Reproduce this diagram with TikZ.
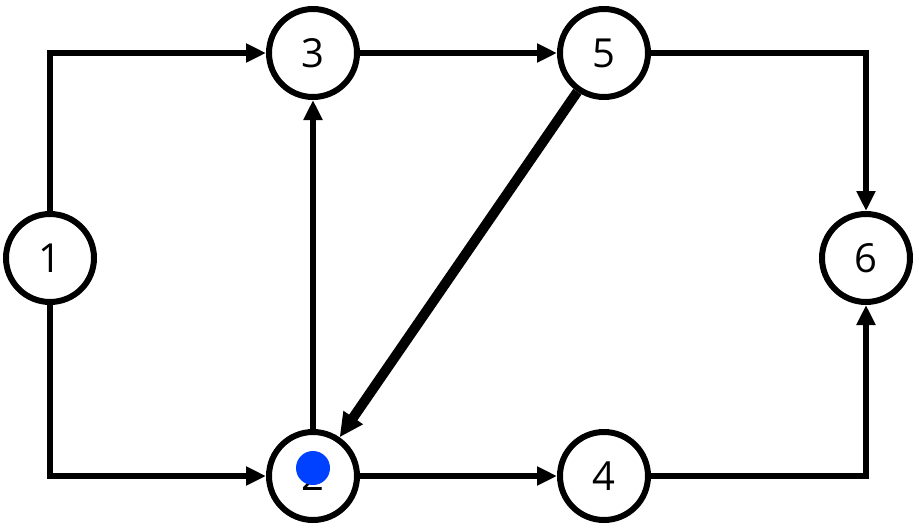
\documentclass[tikz,border=0pt]{standalone}
\usepackage{fontspec}
\setmainfont{Open Sans}
\usetikzlibrary{arrows.meta}
\begin{document}
\begin{tikzpicture}[x=1pt,y=-1pt,
  nd/.style={circle,draw,line width=6pt,minimum size=88pt,inner sep=0pt,fill=white,font=\fontsize{40}{40}\selectfont},
  ed/.style={line width=6pt,-{Triangle[length=20pt,width=18pt]}}]
\useasboundingbox (0,0) rectangle (919,531);
\node[nd] (n1) at (50,258) {1};
\node[nd] (n3) at (313,53) {3};
\node[nd] (n5) at (604,53) {5};
\node[nd] (n6) at (866,258) {6};
\node[nd] (n2) at (313,476) {2};
\node[nd] (n4) at (604,476) {4};
\fill[blue!60!cyan!0!blue,fill={rgb,255:red,0;green,64;blue,255}] (313,468) circle (17);
\draw[ed] (n1.north) |- (n3.west);
\draw[ed] (n1.south) |- (n2.west);
\draw[ed] (n3) -- (n5);
\draw[ed] (n5.east) -| (n6.north);
\draw[ed] (n2) -- (n3);
\draw[ed] (n2) -- (n4);
\draw[ed] (n4.east) -| (n6.south);
\draw[line width=10pt,-{Triangle[length=24pt,width=22pt]}] (n5) -- (n2);
\end{tikzpicture}
\end{document}
